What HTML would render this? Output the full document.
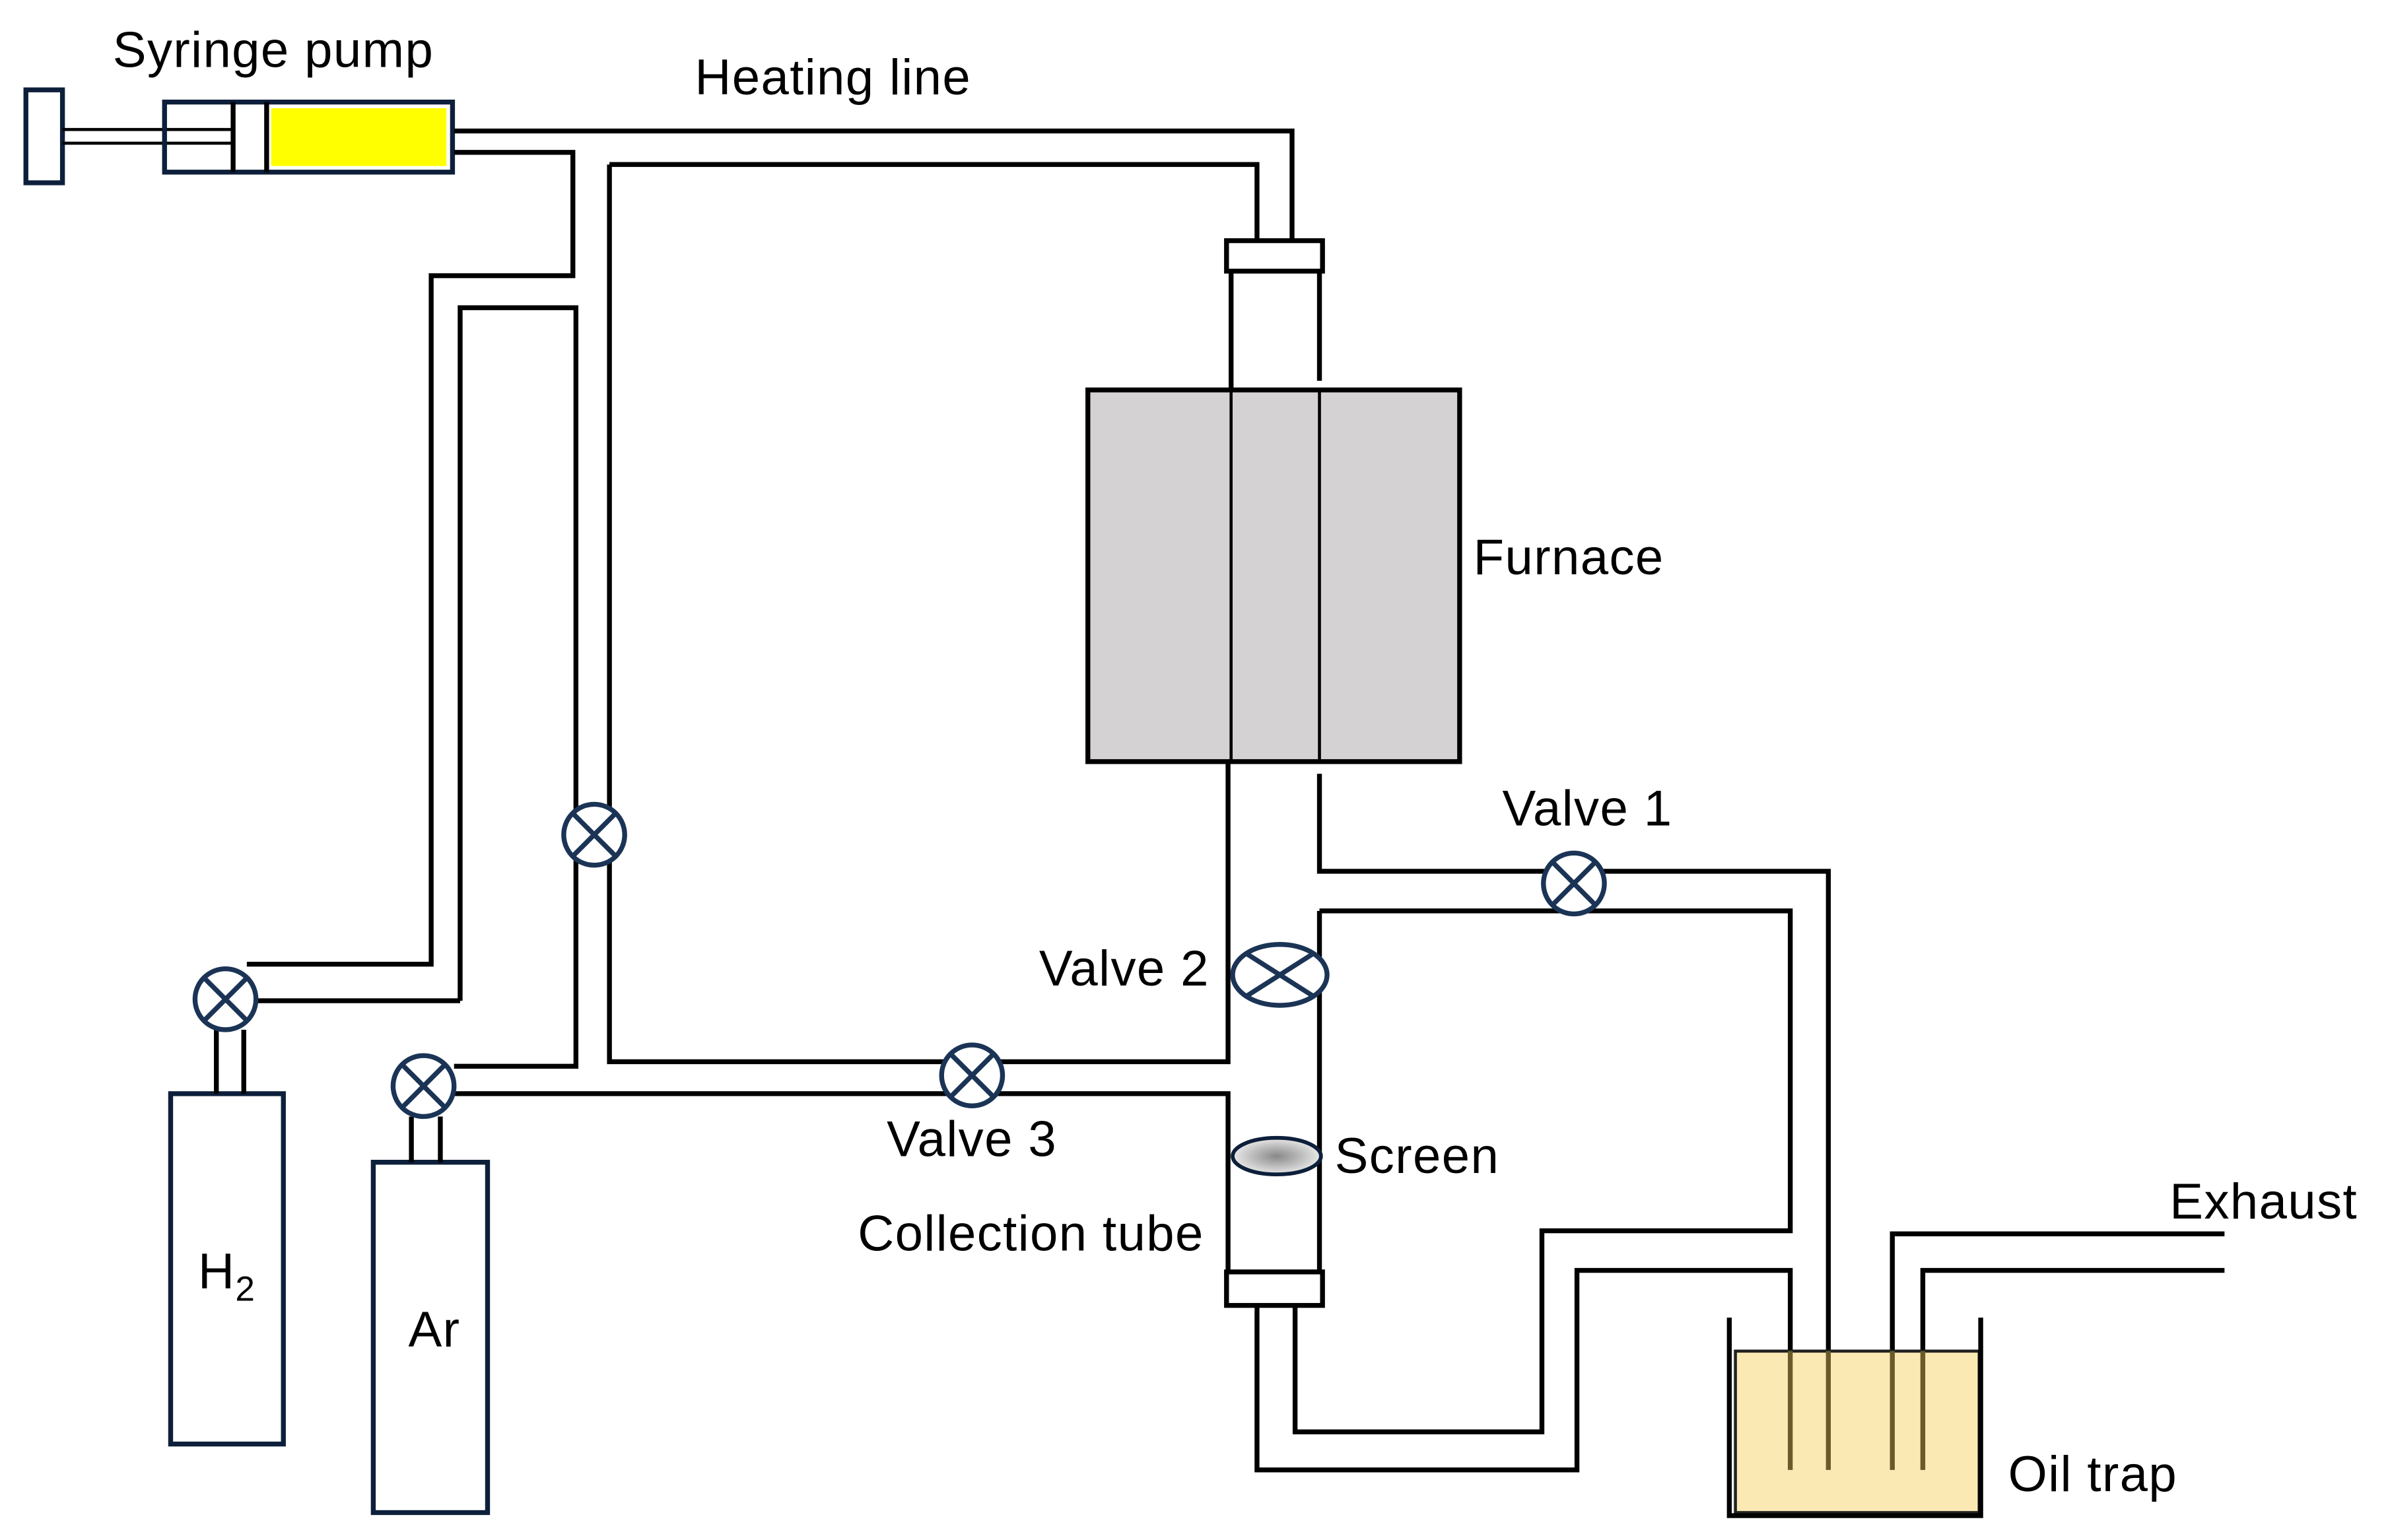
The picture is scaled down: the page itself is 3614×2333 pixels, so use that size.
<!DOCTYPE html>
<html><head><style>html,body{margin:0;padding:0;background:#fff}svg{display:block}</style></head>
<body>
<svg width="3614" height="2333" viewBox="0 0 1566 1011" preserveAspectRatio="none" xmlns="http://www.w3.org/2000/svg">
<g fill="none" stroke="#000" stroke-width="3.2">
<rect x="17" y="59" width="24" height="61" stroke="#0d1f3a"/>
<line x1="41" y1="85" x2="152" y2="85" stroke-width="2"/>
<line x1="41" y1="94" x2="152" y2="94" stroke-width="2"/>
<rect x="108" y="67" width="189" height="46" stroke="#0d1f3a"/>
<rect x="178" y="71" width="115" height="38" fill="#ffff00" stroke="none"/>
<line x1="153" y1="67" x2="153" y2="113"/>
<line x1="175" y1="67" x2="175" y2="113"/>
<polyline points="298,86 848,86 848,158"/>
<polyline points="298,100 376,100 376,181 283,181 283,633 162,633"/>
<polyline points="400,108 825,108 825,158"/>
<polyline points="302,657 302,202 378,202 378,700 298,700"/>
<polyline points="168,657 302,657"/>
<polyline points="400,108 400,697 806,697 806,500"/>
<polyline points="298,718 806,718 806,835"/>
<rect x="805" y="158" width="63" height="20"/>
<line x1="808" y1="178" x2="808" y2="256"/>
<line x1="866" y1="178" x2="866" y2="250"/>
<rect x="714" y="256" width="244" height="244" fill="#d4d2d3"/>
<line x1="808" y1="256" x2="808" y2="500" stroke-width="2"/>
<line x1="866" y1="256" x2="866" y2="500" stroke-width="2"/>
<polyline points="866,508 866,572 1200,572 1200,965"/>
<polyline points="866,598 1175,598 1175,808 1012,808 1012,940 850,940 850,858"/>
<line x1="866" y1="598" x2="866" y2="835"/>
<polyline points="825,858 825,965 1035,965 1035,834 1175,834 1175,965"/>
<rect x="805" y="835" width="63" height="22"/>
<polyline points="1242,965 1242,810 1460,810"/>
<polyline points="1262,965 1262,834 1460,834"/>
<rect x="1139" y="887" width="160" height="106" fill="#fbe9b4" stroke="#222" stroke-width="2"/>
<polyline points="1135,865 1135,995 1300,995 1300,865"/>
<line x1="1175" y1="887" x2="1175" y2="965" stroke="#6b5a2a"/>
<line x1="1200" y1="887" x2="1200" y2="965" stroke="#6b5a2a"/>
<line x1="1242" y1="887" x2="1242" y2="965" stroke="#6b5a2a"/>
<line x1="1262" y1="887" x2="1262" y2="965" stroke="#6b5a2a"/>
<rect x="112" y="718" width="74" height="230" stroke="#0d1f3a"/>
<line x1="142" y1="676" x2="142" y2="718"/><line x1="160" y1="676" x2="160" y2="718"/>
<rect x="245" y="763" width="75" height="230" stroke="#0d1f3a"/>
<line x1="270" y1="733" x2="270" y2="763"/><line x1="289" y1="733" x2="289" y2="763"/>
</g>
<defs><radialGradient id="g"><stop offset="0" stop-color="#888"/><stop offset="1" stop-color="#e8e8e8"/></radialGradient></defs>
<ellipse cx="838" cy="759" rx="29" ry="12" fill="url(#g)" stroke="#0d1f3a" stroke-width="2.5"/>
<g fill="#fff" stroke="#1b3456" stroke-width="3.2">
<g transform="translate(148,656)"><circle r="20"/><path d="M-14,-14L14,14M14,-14L-14,14"/></g>
<g transform="translate(278,713)"><circle r="20"/><path d="M-14,-14L14,14M14,-14L-14,14"/></g>
<g transform="translate(390,548)"><circle r="20"/><path d="M-14,-14L14,14M14,-14L-14,14"/></g>
<g transform="translate(638,706)"><circle r="20"/><path d="M-14,-14L14,14M14,-14L-14,14"/></g>
<g transform="translate(1033,580)"><circle r="20"/><path d="M-14,-14L14,14M14,-14L-14,14"/></g>
<g transform="translate(840,640)"><ellipse rx="31" ry="20"/><path d="M-22,-14L22,14M22,-14L-22,14"/></g>
</g>
<g font-family="Liberation Sans, sans-serif" font-size="33" letter-spacing="0.6" fill="#000">
<text x="74" y="44">Syringe pump</text>
<text x="456" y="62">Heating line</text>
<text x="967" y="377">Furnace</text>
<text x="986" y="542">Valve 1</text>
<text x="682" y="647">Valve 2</text>
<text x="582" y="759">Valve 3</text>
<text x="876" y="770">Screen</text>
<text x="563" y="821">Collection tube</text>
<text x="1424" y="800">Exhaust</text>
<text x="1318" y="979">Oil trap</text>
<text x="130" y="846">H<tspan font-size="23" dy="8">2</tspan></text>
<text x="268" y="884">Ar</text>
</g>
</svg>
</body></html>
